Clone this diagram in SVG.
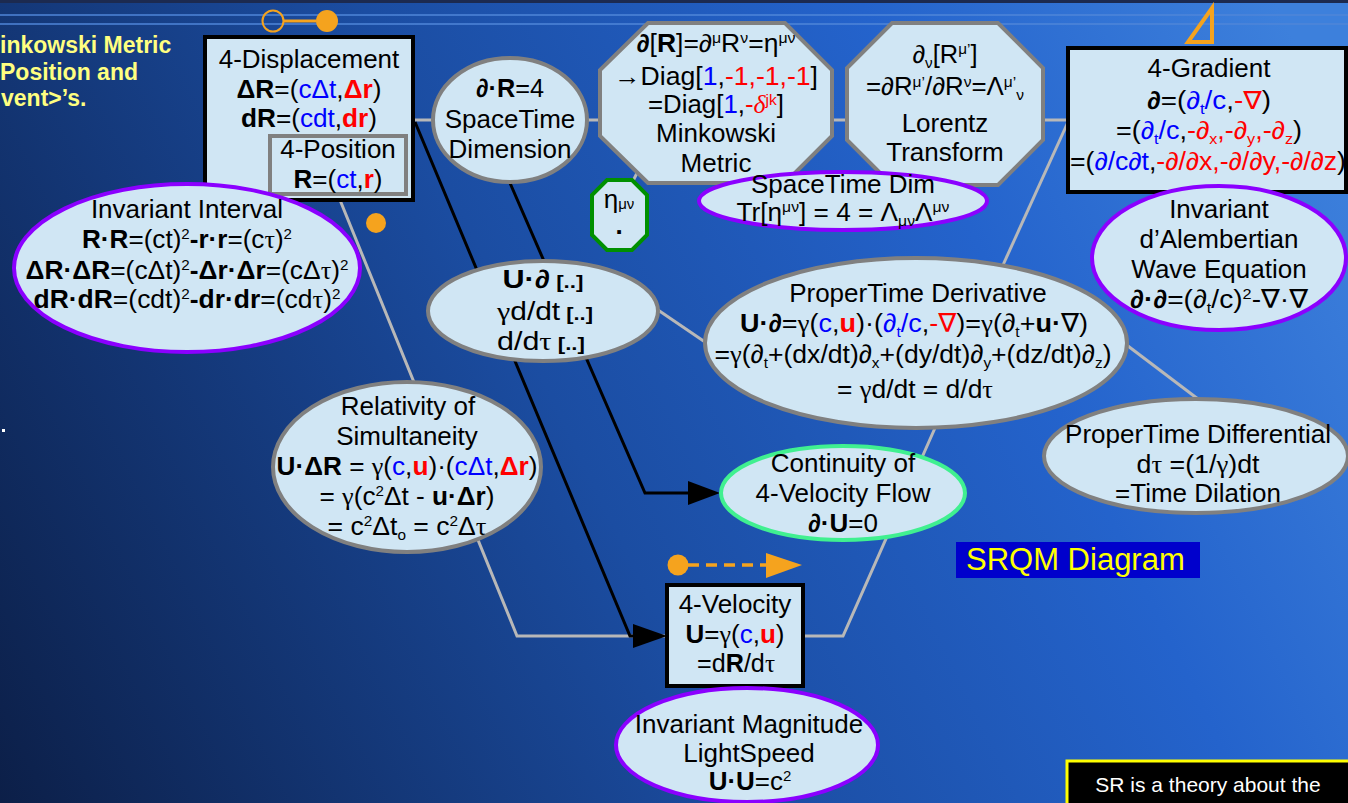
<svg xmlns="http://www.w3.org/2000/svg" width="1348" height="803" viewBox="0 0 1348 803">
<defs>
<linearGradient id="bg" gradientUnits="userSpaceOnUse" x1="0" y1="803" x2="1348" y2="150">
<stop offset="0" stop-color="#0c1f48"/>
<stop offset="0.45" stop-color="#1b4da2"/>
<stop offset="0.75" stop-color="#2463cc"/>
<stop offset="1" stop-color="#3d80dc"/>
</linearGradient>
<style>
.t{font-family:"Liberation Sans",Arial,"DejaVu Sans",sans-serif;font-size:26px;fill:#000;text-anchor:middle}
.f{font-size:25px}
.b{font-weight:bold}
.bl{fill:#0000ff}
.rd{fill:#ff0000}
.s{font-size:15px}
.br{font-size:19px;font-weight:bold}
.gr{font-family:"Liberation Serif","DejaVu Serif",serif}
.it{font-style:italic}
.gs{fill:#d0e6f4;stroke:#808080;stroke-width:4}
.ps{fill:#d0e6f4;stroke:#8b00ff;stroke-width:4}
.bx{fill:#d0e6f4;stroke:#000;stroke-width:4}
.cg{fill:none;stroke:#b8b8b8;stroke-width:3}
.ck{fill:none;stroke:#000;stroke-width:3}
.or{fill:#f5a31e}
.yl{font-family:"Liberation Sans",Arial,sans-serif;font-size:23px;font-weight:bold;fill:#ffff80}
</style>
</defs>
<rect x="0" y="0" width="1348" height="803" fill="url(#bg)"/>
<rect x="0" y="0" width="1348" height="3" fill="#1c2a50"/>
<line x1="0" y1="15" x2="1348" y2="15" stroke="#4f86d8" stroke-width="1.5"/>
<line x1="0" y1="24" x2="1348" y2="24" stroke="#4f86d8" stroke-width="1.5"/>

<g id="header-text">
<text class="yl" x="0" y="53">inkowski Metric</text>
<text class="yl" x="0" y="80">Position and</text>
<text class="yl" x="1" y="106">vent&gt;’s.</text>
<rect x="2" y="429" width="3" height="3" fill="#ffffff"/>
</g>

<g id="connectors">
<line class="cg" x1="413" y1="120" x2="433" y2="120"/>
<line class="cg" x1="587" y1="120" x2="601" y2="120"/>
<line class="cg" x1="831" y1="120" x2="848" y2="120"/>
<line class="cg" x1="1042" y1="120" x2="1069" y2="120"/>
<line class="cg" x1="1068" y1="122" x2="1003" y2="265"/>
<polyline class="cg" points="340,200 517,636 667,636"/>
<polyline class="cg" points="803,636 843,636 935,428"/>
<line class="cg" x1="658" y1="310" x2="705" y2="342"/>
<line class="cg" x1="1124" y1="343" x2="1198" y2="399"/>
<line class="cg" x1="637" y1="173" x2="631" y2="185"/>
<polyline class="ck" points="415,122 630,636 640,636"/>
<polygon points="633,624 667,636 633,648" fill="#000"/>
<polyline class="ck" points="510,183 645,493 692,493"/>
<polygon points="688,481 720,493 688,505" fill="#000"/>
</g>

<g id="decor">
<circle cx="273" cy="21" r="10.5" fill="none" stroke="#f5a31e" stroke-width="2"/>
<line x1="284" y1="21" x2="316" y2="21" stroke="#f5a31e" stroke-width="3"/>
<circle class="or" cx="327" cy="21" r="11"/>
<circle class="or" cx="376" cy="223" r="10"/>
<polygon points="1212,8 1212,42 1188,42" fill="none" stroke="#f5a31e" stroke-width="4"/>
<circle class="or" cx="678" cy="565" r="10.5"/>
<line x1="688" y1="565" x2="768" y2="565" stroke="#f5a31e" stroke-width="3.5" stroke-dasharray="11,7"/>
<polygon class="or" points="766,553 802,565 766,578"/>
</g>

<g id="n-displacement">
<rect class="bx" x="205" y="37" width="208" height="163"/>
<text class="t" x="309" y="68">4-Displacement</text>
<text class="t" x="309" y="98" textLength="145" lengthAdjust="spacingAndGlyphs"><tspan class="b">ΔR</tspan>=(<tspan class="bl">cΔt</tspan>,<tspan class="rd b">Δr</tspan>)</text>
<text class="t" x="309" y="127" textLength="136" lengthAdjust="spacingAndGlyphs"><tspan class="b">dR</tspan>=(<tspan class="bl">cdt</tspan>,<tspan class="rd b">dr</tspan>)</text>
</g>
<g id="n-position">
<rect x="270" y="136" width="136" height="58" fill="#d0e6f4" stroke="#808080" stroke-width="4"/>
<text class="t" x="338" y="158">4-Position</text>
<text class="t" x="338" y="188" textLength="89" lengthAdjust="spacingAndGlyphs"><tspan class="b">R</tspan>=(<tspan class="bl">ct</tspan>,<tspan class="rd b">r</tspan>)</text>
</g>

<g id="n-interval">
<ellipse class="ps" cx="187" cy="268" rx="173" ry="84"/>
<text class="t" x="187" y="218">Invariant Interval</text>
<text class="t" x="187" y="248" textLength="210" lengthAdjust="spacingAndGlyphs"><tspan class="b">R·R</tspan>=(ct)<tspan class="s" dy="-9">2</tspan><tspan class="b" dy="9">-r·r</tspan>=(c<tspan class="gr">τ</tspan>)<tspan class="s" dy="-9">2</tspan></text>
<text class="t" x="187" y="279" textLength="323" lengthAdjust="spacingAndGlyphs"><tspan class="b">ΔR·ΔR</tspan>=(cΔt)<tspan class="s" dy="-9">2</tspan><tspan class="b" dy="9">-Δr·Δr</tspan>=(cΔ<tspan class="gr">τ</tspan>)<tspan class="s" dy="-9">2</tspan></text>
<text class="t" x="187" y="308" textLength="307" lengthAdjust="spacingAndGlyphs"><tspan class="b">dR·dR</tspan>=(cdt)<tspan class="s" dy="-9">2</tspan><tspan class="b" dy="9">-dr·dr</tspan>=(cd<tspan class="gr">τ</tspan>)<tspan class="s" dy="-9">2</tspan></text>
</g>

<g id="n-dimension">
<ellipse class="gs" cx="510" cy="120" rx="77" ry="62"/>
<text class="t" x="510" y="97" textLength="68" lengthAdjust="spacingAndGlyphs"><tspan class="b">∂·R</tspan>=4</text>
<text class="t" x="510" y="128">SpaceTime</text>
<text class="t" x="510" y="158">Dimension</text>
</g>

<g id="n-minkowski">
<polygon class="gs" points="648,23 785,23 832,70 832,136 785,183 648,183 600,136 600,70"/>
<text class="t f" x="716" y="52" textLength="159" lengthAdjust="spacingAndGlyphs"><tspan class="b">∂</tspan>[<tspan class="b">R</tspan>]=∂<tspan class="s" dy="-9">μ</tspan><tspan dy="9">R</tspan><tspan class="s" dy="-9">ν</tspan><tspan dy="9">=η</tspan><tspan class="s" dy="-9">μν</tspan></text>
<text class="t f" x="716" y="85" textLength="204" lengthAdjust="spacingAndGlyphs">→Diag[<tspan class="bl">1</tspan>,<tspan class="rd">-1,-1,-1</tspan>]</text>
<text class="t f" x="716" y="113" textLength="136" lengthAdjust="spacingAndGlyphs">=Diag[<tspan class="bl">1</tspan>,<tspan class="rd">-<tspan class="gr it">δ</tspan><tspan class="s" dy="-8">jk</tspan></tspan><tspan dy="8">]</tspan></text>
<text class="t" x="716" y="142">Minkowski</text>
<text class="t" x="716" y="172">Metric</text>
</g>

<g id="n-lorentz">
<polygon class="gs" points="892,23 998,23 1043,68 1043,140 998,185 892,185 847,140 847,68"/>
<text class="t f" x="945" y="63" textLength="65" lengthAdjust="spacingAndGlyphs">∂<tspan class="s" dy="5">ν</tspan><tspan dy="-5">[R</tspan><tspan class="s" dy="-9">μ’</tspan><tspan dy="9">]</tspan></text>
<text class="t f" x="945" y="95" textLength="158" lengthAdjust="spacingAndGlyphs">=∂R<tspan class="s" dy="-8">μ’</tspan><tspan dy="8">/∂R</tspan><tspan class="s" dy="-8">ν</tspan><tspan dy="8">=Λ</tspan><tspan class="s" dy="-8">μ’</tspan><tspan class="s" dy="13">ν</tspan></text>
<text class="t" x="945" y="132">Lorentz</text>
<text class="t" x="945" y="161">Transform</text>
</g>

<g id="n-gradient">
<rect class="bx" x="1068" y="48" width="278" height="144"/>
<text class="t" x="1209" y="77">4-Gradient</text>
<text class="t f" x="1209" y="109" textLength="124" lengthAdjust="spacingAndGlyphs"><tspan class="b">∂</tspan>=(<tspan class="bl">∂<tspan class="s" dy="5">t</tspan><tspan dy="-5">/c</tspan></tspan>,<tspan class="rd">-∇</tspan>)</text>
<text class="t f" x="1209" y="139" textLength="186" lengthAdjust="spacingAndGlyphs">=(<tspan class="bl">∂<tspan class="s" dy="5">t</tspan><tspan dy="-5">/c</tspan></tspan>,<tspan class="rd">-∂<tspan class="s" dy="5">x</tspan><tspan dy="-5">,-∂</tspan><tspan class="s" dy="5">y</tspan><tspan dy="-5">,-∂</tspan><tspan class="s" dy="5">z</tspan></tspan><tspan dy="-5">)</tspan></text>
<text class="t f" x="1208" y="170" textLength="276" lengthAdjust="spacingAndGlyphs">=(<tspan class="bl">∂/c∂t</tspan>,<tspan class="rd">-∂/∂x,-∂/∂y,-∂/∂z</tspan>)</text>
</g>

<g id="n-stdim">
<ellipse class="ps" cx="843" cy="201" rx="144" ry="29"/>
<text class="t" x="843" y="193">SpaceTime Dim</text>
<text class="t f" x="843" y="221" textLength="213" lengthAdjust="spacingAndGlyphs">Tr[η<tspan class="s" dy="-9">μν</tspan><tspan dy="9">] = 4 = Λ</tspan><tspan class="s" dy="5">μν</tspan><tspan dy="-5">Λ</tspan><tspan class="s" dy="-9">μν</tspan></text>
</g>

<g id="n-eta">
<polygon points="607,180 632,180 647,195 647,235 632,250 607,250 592,235 592,195" fill="#d0e6f4" stroke="#009000" stroke-width="4"/>
<text class="t" x="619" y="208" font-size="24">η<tspan class="s" dy="1">μν</tspan></text>
<text class="t b" x="619" y="234">.</text>
</g>

<g id="n-dalembert">
<ellipse class="ps" cx="1219" cy="258" rx="127" ry="72"/>
<text class="t" x="1219" y="218">Invariant</text>
<text class="t" x="1219" y="248">d’Alembertian</text>
<text class="t" x="1219" y="278">Wave Equation</text>
<text class="t" x="1219" y="308" textLength="178" lengthAdjust="spacingAndGlyphs"><tspan class="b">∂·∂</tspan>=(∂<tspan class="s" dy="5">t</tspan><tspan dy="-5">/c)</tspan><tspan class="s" dy="-9">2</tspan><tspan dy="9">-∇·∇</tspan></text>
</g>

<g id="n-uderiv">
<ellipse class="gs" cx="543" cy="311" rx="115" ry="50"/>
<text class="t" x="543" y="288" textLength="81" lengthAdjust="spacingAndGlyphs"><tspan class="b">U·∂</tspan><tspan class="br"> [..]</tspan></text>
<text class="t" x="545" y="320" textLength="96" lengthAdjust="spacingAndGlyphs"><tspan class="gr">γ</tspan>d/dt<tspan class="br"> [..]</tspan></text>
<text class="t" x="541" y="350" textLength="88" lengthAdjust="spacingAndGlyphs">d/d<tspan class="gr">τ</tspan><tspan class="br"> [..]</tspan></text>
</g>

<g id="n-ptderiv">
<ellipse class="gs" cx="916" cy="343" rx="211" ry="85"/>
<text class="t" x="918" y="302">ProperTime Derivative</text>
<text class="t" x="914" y="332" textLength="348" lengthAdjust="spacingAndGlyphs"><tspan class="b">U·∂</tspan>=<tspan class="gr">γ</tspan>(<tspan class="bl">c</tspan>,<tspan class="rd b">u</tspan>)·(<tspan class="bl">∂<tspan class="s" dy="5">t</tspan><tspan dy="-5">/c</tspan></tspan>,<tspan class="rd">-∇</tspan>)=<tspan class="gr">γ</tspan>(∂<tspan class="s" dy="5">t</tspan><tspan dy="-5">+</tspan><tspan class="b">u·</tspan>∇)</text>
<text class="t" x="913" y="363" textLength="397" lengthAdjust="spacingAndGlyphs">=<tspan class="gr">γ</tspan>(∂<tspan class="s" dy="5">t</tspan><tspan dy="-5">+(dx/dt)∂</tspan><tspan class="s" dy="5">x</tspan><tspan dy="-5">+(dy/dt)∂</tspan><tspan class="s" dy="5">y</tspan><tspan dy="-5">+(dz/dt)∂</tspan><tspan class="s" dy="5">z</tspan><tspan dy="-5">)</tspan></text>
<text class="t" x="915" y="398" textLength="156" lengthAdjust="spacingAndGlyphs">= <tspan class="gr">γ</tspan>d/dt = d/d<tspan class="gr">τ</tspan></text>
</g>

<g id="n-ptdiff">
<ellipse class="gs" cx="1196" cy="456" rx="152" ry="57"/>
<text class="t" x="1198" y="443">ProperTime Differential</text>
<text class="t" x="1198" y="473" textLength="123" lengthAdjust="spacingAndGlyphs">d<tspan class="gr">τ</tspan> =(1/<tspan class="gr">γ</tspan>)dt</text>
<text class="t" x="1198" y="502">=Time Dilation</text>
</g>

<g id="n-simultaneity">
<ellipse class="gs" cx="407" cy="467" rx="134" ry="85"/>
<text class="t" x="408" y="415">Relativity of</text>
<text class="t" x="407" y="445">Simultaneity</text>
<text class="t" x="407" y="475" textLength="261" lengthAdjust="spacingAndGlyphs"><tspan class="b">U·ΔR</tspan> = <tspan class="gr">γ</tspan>(<tspan class="bl">c</tspan>,<tspan class="rd b">u</tspan>)·(<tspan class="bl">cΔt</tspan>,<tspan class="rd b">Δr</tspan>)</text>
<text class="t" x="407" y="505" textLength="175" lengthAdjust="spacingAndGlyphs">= <tspan class="gr">γ</tspan>(c<tspan class="s" dy="-9">2</tspan><tspan dy="9">Δt - </tspan><tspan class="b">u·Δr</tspan>)</text>
<text class="t" x="407" y="535" textLength="159" lengthAdjust="spacingAndGlyphs">= c<tspan class="s" dy="-9">2</tspan><tspan dy="9">Δt</tspan><tspan class="s" dy="5">o</tspan><tspan dy="-5"> = c</tspan><tspan class="s" dy="-9">2</tspan><tspan dy="9">Δ</tspan><tspan class="gr">τ</tspan></text>
</g>

<g id="n-continuity">
<ellipse cx="843" cy="493" rx="122" ry="47" fill="#d0e6f4" stroke="#40f090" stroke-width="4"/>
<text class="t" x="843" y="472">Continuity of</text>
<text class="t" x="843" y="502">4-Velocity Flow</text>
<text class="t" x="843" y="532"><tspan class="b">∂·U</tspan>=0</text>
</g>

<g id="n-velocity">
<rect class="bx" x="667" y="585" width="136" height="101"/>
<text class="t" x="735" y="613">4-Velocity</text>
<text class="t" x="735" y="643" textLength="99" lengthAdjust="spacingAndGlyphs"><tspan class="b">U</tspan>=<tspan class="gr">γ</tspan>(<tspan class="bl">c</tspan>,<tspan class="rd b">u</tspan>)</text>
<text class="t" x="736" y="672" textLength="78" lengthAdjust="spacingAndGlyphs">=d<tspan class="b">R</tspan>/d<tspan class="gr">τ</tspan></text>
</g>

<g id="n-magnitude">
<ellipse class="ps" cx="747" cy="745" rx="131" ry="57"/>
<text class="t" x="749" y="733">Invariant Magnitude</text>
<text class="t" x="749" y="762">LightSpeed</text>
<text class="t" x="750" y="790"><tspan class="b">U·U</tspan>=c<tspan class="s" dy="-9">2</tspan></text>
</g>

<g id="n-srqm">
<rect x="956" y="542" width="244" height="36" fill="#0000cc"/>
<text x="966" y="570" font-family="Liberation Sans, Arial, sans-serif" font-size="31" fill="#ffff00">SRQM Diagram</text>
</g>

<g id="n-srnote">
<rect x="1067" y="761" width="290" height="60" fill="#000" stroke="#ffff00" stroke-width="3"/>
<text x="1208" y="792" font-family="Liberation Sans, Arial, sans-serif" font-size="21" fill="#ffffff" text-anchor="middle">SR is a theory about the</text>
</g>
</svg>
